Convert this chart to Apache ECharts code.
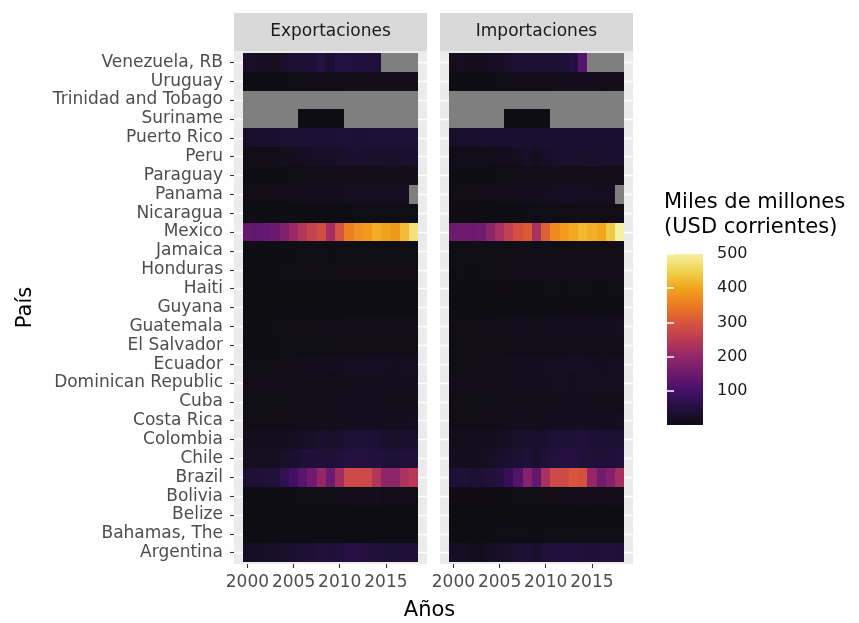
<!DOCTYPE html>
<html>
<head>
<meta charset="utf-8">
<script src="https://cdn.jsdelivr.net/npm/echarts@6/dist/echarts.min.js"></script>
<style>html,body{margin:0;padding:0;background:#fff}#c{width:859px;height:623px}</style>
</head>
<body>
<div id="c"></div>
<script>
// ---- Data (billions of current USD) ----
const years = [2000,2001,2002,2003,2004,2005,2006,2007,2008,2009,2010,2011,2012,2013,2014,2015,2016,2017,2018];
const countries = ["Argentina","Bahamas, The","Belize","Bolivia","Brazil","Chile","Colombia","Costa Rica","Cuba","Dominican Republic","Ecuador","El Salvador","Guatemala","Guyana","Haiti","Honduras","Jamaica","Mexico","Nicaragua","Panama","Paraguay","Peru","Puerto Rico","Suriname","Trinidad and Tobago","Uruguay","Venezuela, RB"];
const panels = ["Exportaciones","Importaciones"];
const xTicks = [2000,2005,2010,2015];
const legendTicks = [100,200,300,400,500];
const N = null;
const exportaciones = [
 [31,31,30,35,40,47,54,66,82,69,80,98,96,89,82,69,70,73,77],
 [2.7,2.5,2.5,2.6,2.9,3.2,3.4,3.7,3.7,3.1,3.3,3.5,3.8,3.5,3.6,3.6,3.5,3.6,3.9],
 [0.4,0.4,0.4,0.5,0.6,0.6,0.7,0.7,0.8,0.7,0.8,0.9,1.0,1.0,1.0,1.0,0.9,1.0,1.1],
 [1.5,1.6,1.6,1.9,2.5,3.1,4.4,5.1,7.1,5.5,7.1,9.2,12.0,12.9,13.3,9.1,7.7,8.9,10.0],
 [65,67,70,84,109,134,157,185,228,181,240,302,300,298,263,220,220,255,269],
 [22,22,22,26,39,49,67,77,77,65,81,95,92,90,88,74,70,79,85],
 [16,15,15,16,20,25,29,35,45,38,46,66,70,67,63,42,38,44,49],
 [7.8,6.9,7.3,8.3,8.6,9.8,11.4,12.9,13.5,12.9,14.7,16.0,17.6,18.3,19.3,19.0,19.7,20.7,21.9],
 [4.3,4.5,4.4,4.9,6.3,8.9,9.9,12.0,12.9,10.9,14.6,17.5,18.1,18.2,17.0,15.3,13.3,13.4,13.4],
 [8.9,8.4,8.3,9.0,9.7,10.0,10.9,11.5,11.7,10.4,11.7,13.9,14.6,15.7,16.6,16.8,17.8,18.6,19.4],
 [5.9,5.6,6.0,7.0,8.6,11.0,13.8,15.6,20.2,15.2,19.4,24.7,26.7,27.9,28.6,21.0,19.2,21.6,24.0],
 [3.6,3.6,3.8,4.0,4.3,4.6,4.9,5.2,5.9,5.2,5.8,6.7,6.4,6.8,6.9,7.2,7.0,7.3,7.6],
 [4.2,3.8,3.9,4.4,5.2,5.8,6.5,7.7,8.7,8.1,9.6,11.3,11.3,11.5,12.3,12.4,12.1,12.8,12.7],
 [0.6,0.6,0.6,0.6,0.7,0.6,0.7,0.8,1.0,0.9,1.1,1.4,1.5,1.4,1.2,1.2,1.3,1.4,1.5],
 [0.5,0.4,0.4,0.5,0.5,0.6,0.7,0.8,0.8,0.9,0.9,1.1,1.2,1.3,1.4,1.4,1.3,1.4,1.5],
 [3.4,3.4,3.4,3.6,4.3,5.1,5.6,6.1,6.8,5.6,6.6,8.1,8.4,8.1,8.2,8.3,8.3,8.9,8.9],
 [3.3,3.2,3.1,3.3,3.6,3.8,4.4,4.6,5.2,3.9,4.1,4.4,4.4,4.3,4.3,4.1,4.2,4.6,5.0],
 [175,168,172,178,202,232,262,288,305,245,314,368,390,398,418,405,395,432,478],
 [0.9,0.9,0.9,1.0,1.3,1.5,1.8,2.2,2.5,2.4,3.2,3.9,4.6,4.5,4.8,4.7,4.7,5.1,5.0],
 [8.4,8.4,8.0,7.9,9.4,10.8,13.6,16.3,19.0,18.6,19.6,24.3,26.5,27.0,25.8,23.7,21.3,22.3,N],
 [3.0,2.6,2.4,2.8,3.4,4.2,6.0,7.2,10.3,7.5,10.2,12.3,11.6,13.5,13.1,11.3,11.7,12.6,13.5],
 [8.1,8.2,8.9,10.2,14.2,19.0,26.5,31.3,35.9,31.0,41.1,52.3,52.5,48.2,44.5,39.4,42.4,50.1,53.5],
 [40,44,50,52,55,58,60,60,62,63,64,66,63,65,67,68,69,70,72],
 [N,N,N,N,N,N,1.5,1.6,1.9,1.7,2.4,N,N,N,N,N,N,N,N],
 [N,N,N,N,N,N,N,N,N,N,N,N,N,N,N,N,N,N,N],
 [3.8,3.5,3.0,3.1,3.9,4.6,5.6,6.7,9.3,8.1,10.3,12.4,13.1,13.6,13.9,12.0,11.4,12.8,13.4],
 [35,29,28,28,40,57,62,67,97,59,95,90,88,86,75,N,N,N,N]
];
const importaciones = [
 [32,29,14,18,29,35,41,54,68,50,69,88,82,88,77,72,69,83,78],
 [3.3,3.2,3.0,3.0,3.2,4.1,4.8,5.0,4.8,3.9,4.3,4.8,5.3,5.2,5.4,5.0,4.6,5.2,5.3],
 [0.6,0.6,0.6,0.7,0.7,0.7,0.8,0.8,0.9,0.8,0.8,0.9,1.0,1.0,1.1,1.1,1.1,1.0,1.1],
 [2.0,1.9,1.9,1.9,2.2,2.8,3.4,4.1,5.6,5.0,6.0,8.1,9.2,10.4,11.9,11.1,9.7,10.6,11.4],
 [73,73,62,64,80,94,116,151,209,170,250,300,302,320,312,227,187,207,246],
 [21,20,20,22,29,40,47,58,75,52,70,89,94,94,84,75,71,78,88],
 [14,15,15,16,20,24,30,38,46,40,48,64,70,72,79,64,54,56,62],
 [7.4,7.3,8.2,8.6,9.4,11.2,12.8,14.6,16.6,12.4,15.4,18.2,19.3,19.9,20.1,19.2,19.3,19.9,20.9],
 [5.9,5.8,5.2,5.6,6.6,9.6,11.7,12.7,16.2,10.6,12.4,15.2,14.8,15.4,13.9,12.8,11.4,11.6,11.9],
 [11.1,10.5,10.5,9.2,10.0,12.6,14.6,16.6,19.3,15.3,19.1,21.6,21.8,20.7,21.6,21.5,22.0,22.6,25.8],
 [4.2,6.2,7.8,8.2,9.5,11.9,13.9,15.5,20.7,17.3,22.4,26.2,28.2,30.0,31.0,24.7,19.4,23.1,26.6],
 [5.6,5.6,5.7,6.2,6.8,7.3,8.4,9.7,10.8,8.1,9.4,11.0,11.0,11.5,11.5,11.4,11.0,11.4,12.3],
 [6.4,6.9,7.6,8.1,9.7,11.0,12.8,14.9,15.8,12.8,15.4,18.3,18.4,19.3,20.1,19.5,19.0,20.3,21.4],
 [0.7,0.7,0.7,0.7,0.8,0.9,1.1,1.3,1.6,1.4,1.7,2.1,2.2,2.2,2.1,1.8,1.7,2.2,3.3],
 [1.4,1.4,1.3,1.6,1.7,1.9,2.2,2.5,3.1,3.1,4.2,4.1,3.9,4.2,4.2,4.3,3.9,4.3,4.7],
 [4.0,4.1,4.0,4.4,5.3,6.3,7.2,8.6,10.1,7.3,8.9,10.7,11.2,10.9,10.8,10.8,10.6,11.4,12.3],
 [4.7,4.9,5.1,5.3,5.3,6.1,6.9,7.7,8.8,5.9,6.5,7.6,7.5,7.1,6.9,6.3,6.2,6.9,7.5],
 [182,180,181,184,218,250,282,310,325,252,330,380,398,413,430,421,411,447,500],
 [2.0,2.0,2.0,2.1,2.5,2.9,3.4,4.0,4.8,4.1,4.9,6.1,6.6,6.4,6.6,6.7,6.9,7.1,6.4],
 [8.9,8.5,8.4,8.7,10.3,11.3,13.7,16.8,20.6,17.8,20.9,26.0,29.0,29.6,28.1,25.0,22.5,23.3,N],
 [3.6,3.3,2.6,3.0,3.6,4.5,6.2,7.5,10.6,7.4,10.3,12.2,11.5,12.7,12.5,10.5,10.0,11.8,12.8],
 [9.0,9.0,9.1,9.8,11.8,14.3,17.9,24.6,33.8,24.9,33.6,42.8,47.9,49.6,48.4,43.9,41.8,45.6,49.3],
 [38,40,43,45,47,49,50,51,51,47,48,50,48,48,49,48,47,45,48],
 [N,N,N,N,N,N,1.4,1.5,1.7,1.7,2.0,N,N,N,N,N,N,N,N],
 [N,N,N,N,N,N,N,N,N,N,N,N,N,N,N,N,N,N,N],
 [4.2,3.9,2.8,3.1,4.0,4.8,6.0,7.0,10.2,7.9,9.8,12.5,14.2,14.7,14.5,11.9,10.4,11.3,12.0],
 [20,24,18,14,22,30,40,55,58,49,56,58,74,95,155,N,N,N,N]
];

// ---- Styling ----
const FONT = 'DejaVu Sans';
const stops = [
 [0.00,'#0e0d12'],[0.06,'#1a0f2e'],[0.10,'#22103e'],[0.20,'#45106a'],[0.30,'#6d1a6e'],
 [0.40,'#942768'],[0.50,'#ba3a55'],[0.60,'#d8553d'],[0.70,'#ec7a22'],[0.80,'#f2a41c'],
 [0.90,'#f1d24e'],[1.00,'#f6f0a4']
];
const VMIN = 0, VMAX = 500;

function buildData(values){
  const out = [];
  values.forEach((row, ci) => {
    row.forEach((v, yi) => { out.push([years[yi], ci + 1, v === null ? '-' : v]); });
  });
  return out;
}
const rowIdx = countries.map((c, i) => i + 1);

function renderTile(params, api){
  const x = api.value(0), y = api.value(1), v = api.value(2);
  const p0 = api.coord([x - 0.5, y + 0.5]);
  const p1 = api.coord([x + 0.5, y - 0.5]);
  const x0 = Math.round(p0[0]), y0 = Math.round(p0[1]);
  const x1 = Math.round(p1[0]), y1 = Math.round(p1[1]);
  return {
    type: 'rect',
    shape: { x: x0, y: y0, width: x1 - x0, height: y1 - y0 },
    style: { fill: (v === null || isNaN(v)) ? '#7F7F7F' : api.visual('color') }
  };
}

const panelLeft = [234, 440], panelW = 193, panelTop = 51, panelH = 513;

const grids = panelLeft.map(l => ({
  left: l, top: panelTop, width: panelW, height: panelH,
  show: true, backgroundColor: '#EBEBEB', borderWidth: 0, containLabel: false
}));
grids.push({
  left: 667, top: 254, width: 36, height: 171, show: true, borderWidth: 0,
  backgroundColor: new echarts.graphic.LinearGradient(0, 1, 0, 0,
    stops.map(s => ({ offset: s[0], color: s[1] })))
});

const xAxes = [0, 1].map(g => ({
  type: 'value', gridIndex: g, min: 1998.55, max: 2019.45,
  axisLine: { show: false },
  axisTick: { show: true, length: 4, customValues: xTicks, lineStyle: { color: '#333333', width: 1.1 } },
  axisLabel: { customValues: xTicks, fontFamily: FONT, fontSize: 17, color: '#4D4D4D', margin: 10,
    formatter: v => String(Math.round(v)) },
  splitLine: { show: false }
}));
xAxes.push({ type: 'value', gridIndex: 2, show: false, min: 0, max: 1 });

const yAxes = [0, 1].map(g => ({
  type: 'value', gridIndex: g, min: 0.4, max: countries.length + 0.6,
  axisLine: { show: false },
  axisTick: { show: g === 0, length: 4, customValues: rowIdx, lineStyle: { color: '#333333', width: 1.1 } },
  axisLabel: {
    show: g === 0, customValues: rowIdx, fontFamily: FONT, fontSize: 17, color: '#4D4D4D', margin: 11,
    formatter: v => countries[Math.round(v) - 1]
  },
  splitLine: { show: true, lineStyle: { color: '#FFFFFF', width: 1.4 } },
  name: g === 0 ? 'País' : '', nameLocation: 'middle', nameRotate: 90, nameGap: 198,
  nameTextStyle: { fontFamily: FONT, fontSize: 21, color: '#000000' }
}));
yAxes.push({
  type: 'value', gridIndex: 2, min: VMIN, max: VMAX, position: 'right',
  axisLine: { show: false },
  axisTick: { show: true, inside: true, length: 7, customValues: legendTicks, lineStyle: { color: '#FFFFFF', width: 1.5 } },
  axisLabel: { customValues: legendTicks, fontFamily: FONT, fontSize: 16, color: '#1A1A1A', margin: 14 },
  splitLine: { show: false }
});
yAxes.push({
  type: 'value', gridIndex: 2, min: VMIN, max: VMAX, position: 'left',
  axisLine: { show: false },
  axisTick: { show: true, inside: true, length: 7, customValues: legendTicks, lineStyle: { color: '#FFFFFF', width: 1.5 } },
  axisLabel: { show: false },
  splitLine: { show: false }
});

const strips = [];
panelLeft.forEach((l, i) => {
  strips.push({ type: 'rect', shape: { x: l, y: 13, width: panelW, height: 38 }, style: { fill: '#D9D9D9' }, silent: true });
  strips.push({ type: 'text', x: l + panelW / 2, y: 32, silent: true,
    style: { text: panels[i], align: 'center', verticalAlign: 'middle', font: '17px "' + FONT + '"', fill: '#1A1A1A' } });
});

const option = {
  animation: false,
  backgroundColor: '#FFFFFF',
  title: [
    { text: 'Años', left: 'center', top: 595, textStyle: { fontFamily: FONT, fontSize: 21, fontWeight: 'normal', color: '#000000' } },
    { text: 'Miles de millones\n(USD corrientes)', left: 664, top: 190, padding: 0,
      textStyle: { fontFamily: FONT, fontSize: 21, fontWeight: 'normal', color: '#000000', lineHeight: 25 } }
  ],
  grid: grids,
  xAxis: xAxes,
  yAxis: yAxes,
  visualMap: {
    type: 'continuous', show: false, min: VMIN, max: VMAX, dimension: 2, seriesIndex: [0, 1],
    inRange: { color: stops.map(s => s[1]) }
  },
  graphic: strips,
  series: [exportaciones, importaciones].map((vals, i) => ({
    type: 'custom', name: panels[i], xAxisIndex: i, yAxisIndex: i,
    dimensions: ['year', 'country', 'value'],
    encode: { x: 0, y: 1 },
    renderItem: renderTile,
    data: buildData(vals)
  }))
};

const chart = echarts.init(document.getElementById('c'), null, { renderer: 'canvas' });
chart.setOption(option);
</script>
</body>
</html>
